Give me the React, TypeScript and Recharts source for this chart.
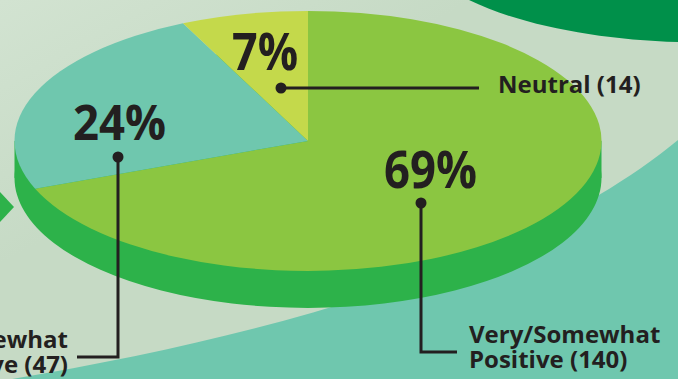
import { Pie, PieChart, Cell } from 'recharts';

// slice order: clockwise from 12 o'clock
const categories = ['Very/Somewhat Positive', 'Very/Somewhat Negative', 'Neutral'];
const counts = [140, 47, 14];
const percents = [69, 24, 7];
const sliceColors = ['#8bc641', '#6fc7ae', '#c4d94b'];
const sideColor = ['#2db24a'];

const W = 678;
const H = 379;
const R = 293.5; // pie radius before vertical squash
const SQUASH = 0.443; // ry / rx of the top face
const DEPTH = 37 / SQUASH; // extrusion depth in unsquashed units
const CX = 300;
const CY = 300;

const ink = '#231f20';
const font = '"Open Sans", "Noto Sans", sans-serif';

export default function App() {
  const data = categories.map((name, i) => ({ name, value: percents[i], count: counts[i] }));
  const whole = [{ name: 'side', value: 100 }];

  return (
    <div
      style={{
        position: 'fixed',
        top: 0,
        left: 0,
        width: W,
        height: H,
        overflow: 'hidden',
        fontFamily: font,
      }}
    >
      {/* backdrop shapes */}
      <svg width={W} height={H} style={{ position: 'absolute', top: 0, left: 0 }}>
        <defs>
          <linearGradient id="bg" x1="0" y1="0" x2="1" y2="1">
            <stop offset="0%" stopColor="#d2e3d1" />
            <stop offset="35%" stopColor="#c6dac5" />
            <stop offset="100%" stopColor="#c6dac5" />
          </linearGradient>
        </defs>
        <rect width={W} height={H} fill="url(#bg)" />
        <path d="M 469 0 C 520 25, 600 40, 678 42 L 678 0 Z" fill="#00904a" />
        <path d="M 0 381 C 250 340, 520 270, 678 140 L 678 379 L 0 379 Z" fill="#6fc7ae" />
        <polygon points="0,192 14,207 0,222" fill="#2db24a" />
      </svg>

      {/* squashed pie = 3D disc */}
      <div
        style={{
          position: 'absolute',
          left: 307.5 - CX,
          top: 141 - CY * SQUASH,
          transform: `scaleY(${SQUASH})`,
          transformOrigin: 'top left',
        }}
      >
        <PieChart width={600} height={700} margin={{ top: 0, right: 0, bottom: 0, left: 0 }}>
          <Pie
            data={whole}
            dataKey="value"
            cx={CX}
            cy={CY + DEPTH}
            outerRadius={R}
            startAngle={90}
            endAngle={-270}
            stroke="none"
            isAnimationActive={false}
          >
            <Cell fill={sideColor[0]} />
          </Pie>
          <rect x={CX - R} y={CY} width={2 * R} height={DEPTH} fill={sideColor[0]} />
          <Pie
            data={data}
            dataKey="value"
            cx={CX}
            cy={CY}
            outerRadius={R}
            startAngle={90}
            endAngle={-270}
            stroke="none"
            isAnimationActive={false}
          >
            {data.map((d, i) => (
              <Cell key={d.name} fill={sliceColors[i]} />
            ))}
          </Pie>
        </PieChart>
      </div>

      {/* labels and leader lines */}
      <svg width={W} height={H} style={{ position: 'absolute', top: 0, left: 0 }}>
        <g fill={ink} fontFamily={font} fontWeight={700}>
          <text x={232} y={70} fontSize={52} textLength={66} lengthAdjust="spacingAndGlyphs">{`${percents[2]}%`}</text>
          <text x={73} y={140} fontSize={49} textLength={93} lengthAdjust="spacingAndGlyphs">{`${percents[1]}%`}</text>
          <text x={384} y={188} fontSize={52} textLength={93} lengthAdjust="spacingAndGlyphs">{`${percents[0]}%`}</text>

          <text x={498} y={93} fontSize={24}>{`Neutral (${counts[2]})`}</text>
          <text x={68} y={348} fontSize={24} textAnchor="end">Very/Somewhat</text>
          <text x={68} y={373} fontSize={24} textAnchor="end">{`Negative (${counts[1]})`}</text>
          <text x={469} y={343} fontSize={24}>Very/Somewhat</text>
          <text x={469} y={368} fontSize={24}>{`Positive (${counts[0]})`}</text>
        </g>
        <g stroke={ink} strokeWidth={3} fill="none">
          <polyline points="281,88 479,88" />
          <polyline points="118,157 118,357 77,357" />
          <polyline points="421,203 421,352 457,352" />
        </g>
        <g fill={ink}>
          <circle cx={281} cy={88} r={5.5} />
          <circle cx={118} cy={157} r={5.5} />
          <circle cx={421} cy={203} r={5.5} />
        </g>
      </svg>
    </div>
  );
}
